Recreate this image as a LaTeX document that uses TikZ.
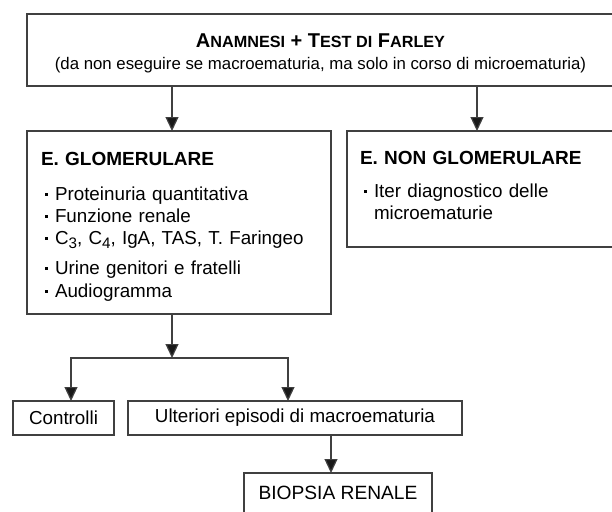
\documentclass[tikz,border=0pt]{standalone}
\usepackage{fontspec}
\setmainfont{Liberation Sans}
\usetikzlibrary{arrows.meta,positioning,calc}
\tikzset{
	box/.style={draw=black!75, line width=0.6pt, inner sep=0pt, outer sep=0pt},
	arr/.style={-{Triangle[length=7pt,width=6.5pt,fill=black!90]}, draw=black!75, line width=0.6pt},
	lst/.style={box, align=left, font=\fontsize{9.4}{11}\selectfont}
}
\newcommand{\blt}{\makebox[7pt][l]{\hspace{2.2pt}\rule[2.3pt]{1.4pt}{1.4pt}}}
\newcommand{\bigc}[1]{{\fontsize{10}{11}\selectfont #1}}
\newcommand{\smc}[1]{{\fontsize{8.1}{11}\selectfont #1}}
\newcommand{\sbs}[1]{\raisebox{-2.2pt}{\fontsize{7.6}{8}\selectfont #1}}

\begin{document}
\begin{tikzpicture}[x=0.5pt, y=-0.5pt]
	\useasboundingbox (0,0) rectangle (612,511);
	\fill[white] (0,0) rectangle (612,511);
	% boxes
	\node[box, minimum width=293.5pt, minimum height=36pt, align=center] (top) at (320.5,50) {
		\rule{0pt}{10.5pt}\bfseries\bigc{A}\smc{NAMNESI} \bigc{+ T}\smc{EST DI} \bigc{F}\smc{ARLEY}\\[-1.2pt]
		\fontsize{8.4}{10}\selectfont (da non eseguire se macroematuria, ma solo in corso di microematuria)};
	\node[lst, minimum width=152pt, minimum height=91.5pt, text width=138pt] (glom) at (179,222.5) {
		\rule{0pt}{11pt}{\bfseries\fontsize{9.5}{11}\selectfont E. GLOMERULARE}\\[6.5pt]
		\blt Proteinuria quantitativa\\
		\blt Funzione renale\\
		\blt C\sbs{3}, C\sbs{4}, IgA, TAS, T. Faringeo\\[4pt]
		\blt Urine genitori e fratelli\\[0.5pt]
		\blt Audiogramma};
	\node[lst, minimum width=133.5pt, minimum height=58pt, text width=120.5pt] (nonglom) at (480.5,189) {
		{\bfseries\fontsize{9.5}{11}\selectfont E. NON GLOMERULARE}\\[5.5pt]
		\blt Iter diagnostico delle\\
		\hspace*{7pt}microematurie\rule[-4pt]{0pt}{1pt}};
	\node[box, minimum width=50.5pt, minimum height=17pt, font=\fontsize{9.4}{11}\selectfont] (ctrl) at (63.5,418) {Controlli};
	\node[box, minimum width=167pt, minimum height=17pt, font=\fontsize{9.4}{11}\selectfont] (ult) at (295,418) {Ulteriori episodi di macroematuria};
	\node[box, minimum width=94pt, minimum height=20pt, font=\fontsize{9.6}{11}\selectfont] (bio) at (338,493) {BIOPSIA RENALE};

	% connectors
	\coordinate (xl) at (172,0);
	\coordinate (xr) at (477,0);
	\coordinate (xc) at (71,0);
	\coordinate (xu) at (288,0);
	\coordinate (xb) at (331,0);
	\coordinate (split) at (172,358);
	\draw[arr] (xl |- top.south) -- (xl |- glom.north);
	\draw[arr] (xr |- top.south) -- (xr |- nonglom.north);
	\draw[arr] (xl |- glom.south) -- (split);
	\draw[arr] (split) -| (xc |- ctrl.north);
	\draw[arr] (split) -| (xu |- ult.north);
	\draw[arr] (xb |- ult.south) -- (xb |- bio.north);
\end{tikzpicture}
\end{document}
